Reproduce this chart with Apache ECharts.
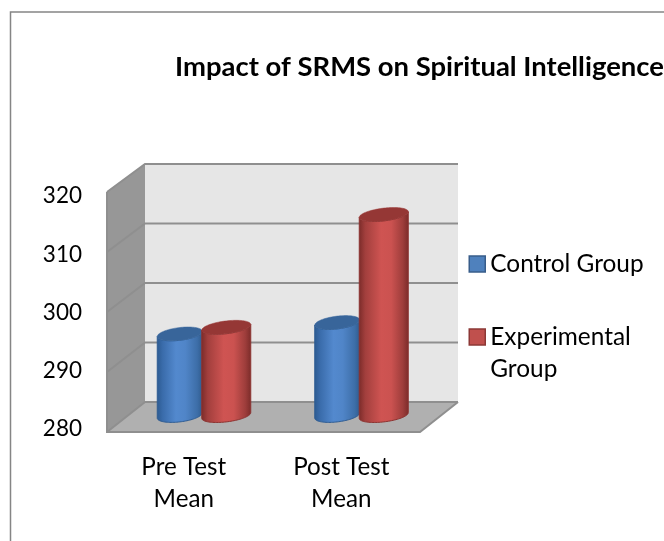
<!DOCTYPE html>
<html>
<head>
<meta charset="utf-8">
<style>html,body{margin:0;padding:0;background:#fff}#c{width:664px;height:541px}</style>
<script src="https://cdn.jsdelivr.net/npm/echarts@6/dist/echarts.min.js"></script>
</head>
<body>
<div id="c"></div>
<script>
const titleText = 'Impact of SRMS on Spiritual Intelligence';
const categories = ['Pre Test\nMean', 'Post Test\nMean'];
const controlName = 'Control Group';
const experimentalName = 'Experimental Group';
const controlValues = [293.6, 295.5];
const experimentalValues = [294.7, 313.5];
const yTicks = [280, 290, 300, 310, 320];

const FONT = 'Lato';
const DEPTH_X = 38, DEPTH_Y_TOP = 28, DEPTH_Y_BOTTOM = 30;
const BAR_DY = 16.5, TILT = 0.115, ELL_B = 6.4;
// front plane of the 3D box relative to the axis rectangle
const PAD = {left: 2, right: 0, top: 4, bottom: 3};

const chart = echarts.init(document.getElementById('c'), null, {renderer: 'canvas'});

function frontMap(cs) {
  const T = cs.y - PAD.top, B = cs.y + cs.height + PAD.bottom;
  return {T, B, L: cs.x + PAD.left, R: cs.x + cs.width - PAD.right,
    y: v => T + (v - cs.y) * (B - T) / cs.height};
}

function frameItem(params, api) {
  const f = frontMap(params.coordSys);
  const {L, R, T, B} = f;
  const backY = y => y - (DEPTH_Y_BOTTOM + (DEPTH_Y_TOP - DEPTH_Y_BOTTOM) * (B - y) / (B - T));
  const lineStyle = {stroke: '#8f8f8f', lineWidth: 2};
  const kids = [
    {type: 'polygon', shape: {points: [[L + DEPTH_X, backY(T)], [R + DEPTH_X, backY(T)], [R + DEPTH_X, backY(B)], [L + DEPTH_X, backY(B)]]}, style: {fill: '#e6e6e6'}},
    {type: 'polygon', shape: {points: [[L, T], [L + DEPTH_X, backY(T)], [L + DEPTH_X, backY(B)], [L, B]]}, style: {fill: '#979797'}},
    {type: 'polygon', shape: {points: [[L, B], [R, B], [R + DEPTH_X, backY(B)], [L + DEPTH_X, backY(B)]]}, style: {fill: '#b0b0b0'}}
  ];
  yTicks.forEach(t => {
    const y = f.y(api.coord([0, t])[1]);
    kids.push({type: 'polyline', shape: {points: [[L, y], [L + DEPTH_X, backY(y)], [R + DEPTH_X, backY(y)]]}, style: Object.assign({fill: null}, lineStyle)});
  });
  kids.push({type: 'polyline', shape: {points: [[L, T], [L, B], [R, B], [R + DEPTH_X, backY(B)]]}, style: Object.assign({fill: null}, lineStyle)});
  return {type: 'group', silent: true, children: kids};
}

function cylinder(colors, offsetX, radius) {
  return function (params, api) {
    const f = frontMap(params.coordSys);
    const top = api.coord([api.value(0), api.value(1)]);
    const base = api.coord([api.value(0), yTicks[0]]);
    const cx = top[0] + offsetX, yt = f.y(top[1]) - BAR_DY, yb = f.y(base[1]) - BAR_DY;
    const pt = (cy, t) => [cx + radius * Math.cos(t), cy + ELL_B * Math.sin(t) - TILT * radius * Math.cos(t)];
    const body = [], cap = [];
    const N = 48;
    for (let i = 0; i <= N; i++) body.push(pt(yb, Math.PI - Math.PI * i / N));
    for (let i = 0; i <= N; i++) body.push(pt(yt, Math.PI * i / N));
    for (let i = 0; i < 2 * N; i++) cap.push(pt(yt, Math.PI * i / N));
    return {
      type: 'group',
      children: [
        {type: 'polygon', shape: {points: body}, style: {
          fill: {type: 'linear', x: 0, y: 0, x2: 1, y2: 0, colorStops: colors.stops},
          stroke: colors.edge, lineWidth: 1
        }},
        {type: 'polygon', shape: {points: cap}, style: {fill: colors.cap, stroke: colors.capEdge, lineWidth: 0.5}}
      ]
    };
  };
}

const blue = {
  cap: '#38659a', capEdge: '#3a689e', edge: '#2f5c92',
  stops: [{offset: 0, color: '#2c5a90'}, {offset: 0.13, color: '#3a6cab'}, {offset: 0.42, color: '#5389ce'}, {offset: 0.62, color: '#5085c8'}, {offset: 0.88, color: '#3d6ea8'}, {offset: 1, color: '#2f5a8c'}]
};
const red = {
  cap: '#953735', capEdge: '#9a3a38', edge: '#8c3331',
  stops: [{offset: 0, color: '#7a2b29'}, {offset: 0.13, color: '#a23f3d'}, {offset: 0.45, color: '#cf5452'}, {offset: 0.65, color: '#cb5250'}, {offset: 0.88, color: '#9e3d3b'}, {offset: 1, color: '#7a2b29'}]
};

chart.setOption({
  animation: false,
  backgroundColor: '#ffffff',
  title: {text: titleText, left: 175, top: 54, padding: 0,
    textStyle: {fontFamily: FONT, fontWeight: 'bold', fontSize: 27.45, color: '#000'}},
  grid: {left: 105, top: 196, width: 315, height: 233, containLabel: false},
  xAxis: {type: 'category', data: categories,
    axisLine: {show: false}, axisTick: {show: false}, splitLine: {show: false},
    axisLabel: {fontFamily: FONT, fontSize: 24.2, color: '#000', lineHeight: 32, margin: 22, interval: 0}},
  yAxis: {type: 'value', min: 280, max: 320, interval: 10,
    axisLine: {show: false}, axisTick: {show: false}, splitLine: {show: false},
    axisLabel: {fontFamily: FONT, fontSize: 22.5, color: '#000', margin: 23}},
  legend: {
    orient: 'vertical', left: 468.5, top: 248, itemWidth: 16, itemHeight: 16, itemGap: 9, padding: 0, itemStyle: {},
    textStyle: {fontFamily: FONT, fontSize: 24.4, color: '#000', lineHeight: 32},
    formatter: n => n === experimentalName ? '\nExperimental\nGroup' : n,
    selectedMode: false,
    data: [
      {name: controlName, icon: 'rect', itemStyle: {color: '#4f81bd', borderColor: '#385d8a', borderWidth: 1.5}},
      {name: experimentalName, icon: 'rect', itemStyle: {color: '#c0504d', borderColor: '#8c3836', borderWidth: 1.5}}
    ]
  },
  graphic: [{type: 'polyline', silent: true, shape: {points: [[10.5, 541], [10.5, 12], [664, 12]]}, style: {fill: null, stroke: '#858585', lineWidth: 1.5}}],
  series: [
    {type: 'custom', name: 'frame', coordinateSystem: 'cartesian2d', renderItem: frameItem, data: [[0, 280]], encode: {x: 0, y: 1}, silent: true, z: 1},
    {type: 'custom', name: controlName, coordinateSystem: 'cartesian2d', renderItem: cylinder(blue, -4, 22.5),
      itemStyle: {color: '#4f81bd'}, encode: {x: 0, y: 1}, data: controlValues.map((v, i) => [i, v]), z: 2},
    {type: 'custom', name: experimentalName, coordinateSystem: 'cartesian2d', renderItem: cylinder(red, 42.5, 24.5),
      itemStyle: {color: '#c0504d'}, encode: {x: 0, y: 1}, data: experimentalValues.map((v, i) => [i, v]), z: 3}
  ]
});
</script>
</body>
</html>
